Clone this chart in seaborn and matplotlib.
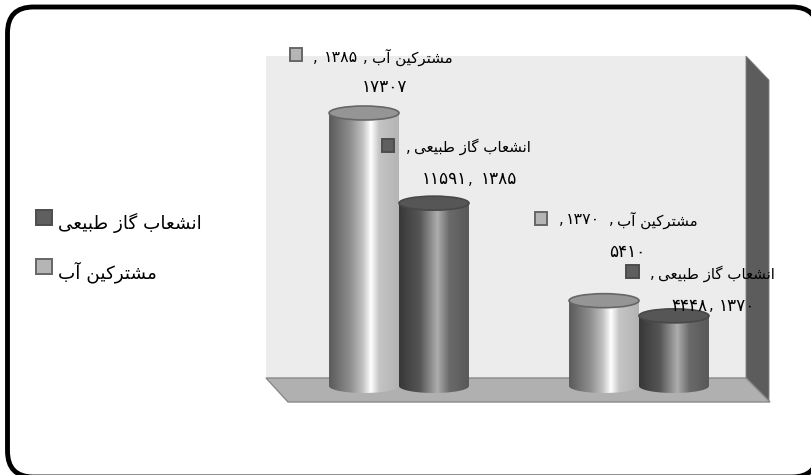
import unicodedata
import numpy as np
import pandas as pd
import matplotlib
matplotlib.use("Agg")
import matplotlib.pyplot as plt
from matplotlib.patches import Polygon, Rectangle, Ellipse, FancyBboxPatch, PathPatch
from matplotlib.path import Path
from matplotlib.colors import LinearSegmentedColormap
import seaborn as sns

# ---- data ----
years = ["۱۳۸۵", "۱۳۷۰"]
series_names = ["مشترکین آب", "انشعاب گاز طبیعی"]
water_values = [17307, 5410]
gas_values = [11591, 4448]
value_texts_water = ["۱۷۳۰۷", "۵۴۱۰"]
value_texts_gas = ["۱۱۵۹۱", "۴۴۴۸"]


# ---- minimal Arabic shaping (matplotlib does no shaping or bidi) ----
def _forms():
    table = {}
    for cp in list(range(0xFB50, 0xFE00)) + list(range(0xFE70, 0xFEFF)):
        d = unicodedata.decomposition(chr(cp)).split()
        if len(d) == 2 and d[0] in ("<isolated>", "<final>", "<initial>", "<medial>"):
            table.setdefault(chr(int(d[1], 16)), {})[d[0][1:-1]] = chr(cp)
    return table


FORMS = _forms()
FORMS.setdefault("آ", {"isolated": "\ufe81", "final": "\ufe82"})


def shape(text):
    out = []
    n = len(text)

    def joins_next(c):
        return c in FORMS and "initial" in FORMS[c]

    def joins_prev(c):
        return c in FORMS and "final" in FORMS[c]

    for i, c in enumerate(text):
        if c not in FORMS:
            out.append(c)
            continue
        p = i > 0 and joins_next(text[i - 1]) and joins_prev(c)
        q = i < n - 1 and joins_next(c) and joins_prev(text[i + 1])
        key = "medial" if p and q else "final" if p else "initial" if q else "isolated"
        out.append(FORMS[c].get(key, c))
    return "".join(reversed(out))


sns.set_theme(style="white")
plt.rcParams["font.family"] = ["DejaVu Sans"]
W, H = 812, 475
fig = plt.figure(figsize=(W / 100, H / 100), dpi=100, facecolor="white")

# pixel-coordinate layers
bg = fig.add_axes([0, 0, 1, 1], zorder=0)
bg.set_xlim(0, W); bg.set_ylim(H, 0); bg.axis("off")
top = fig.add_axes([0, 0, 1, 1], zorder=3)
top.set_xlim(0, W); top.set_ylim(H, 0); top.axis("off")
top.patch.set_alpha(0)

# chart frame (runs off the right and bottom edges of the picture)
bg.add_patch(FancyBboxPatch((7.5, 7), 810.5, 470, boxstyle="round,pad=0,rounding_size=26",
                            fc="white", ec="black", lw=3.5))

# 3-D walls and floor
bg.add_patch(Rectangle((266, 56), 480, 322, fc="#ececec", ec="none"))
bg.add_patch(Polygon([(746, 56), (769, 80), (769, 402), (746, 378)], fc="#5c5c5c", ec="#808080", lw=0.6))
bg.add_patch(Polygon([(266, 378), (746, 378), (770, 402), (288, 402)], fc="#b0b0b0", ec="#8a8a8a", lw=1))

# main chart: one axes whose scales place the cylinders
PX_PER_UNIT = 273 / 17307
ax_left, ax_right = 279, 759
ax_bottom_px, ax_top_px = 386, 386 - 20000 * PX_PER_UNIT
ax = fig.add_axes([ax_left / W, 1 - ax_bottom_px / H, (ax_right - ax_left) / W,
                   (ax_bottom_px - ax_top_px) / H], zorder=1)
df = pd.DataFrame({
    "year": years * 2,
    "series": [series_names[0]] * 2 + [series_names[1]] * 2,
    "value": water_values + gas_values,
})
sns.barplot(data=df, x="year", y="value", hue="series", order=years, hue_order=series_names,
            width=0.583, gap=0, dodge=True, palette=["#b5b5b5", "#5f5f5f"], legend=False, ax=ax)
ax.set_xlim(-0.5, 1.5); ax.set_ylim(0, 20000)
ax.axis("off")
ax.patch.set_alpha(0)

light = LinearSegmentedColormap.from_list("l", [(0, "#5a5a5a"), (0.3, "#8e8e8e"), (0.48, "#c0c0c0"), (0.6, "#ffffff"), (0.72, "#c4c4c4"), (1, "#b4b4b4")])
dark = LinearSegmentedColormap.from_list("d", [(0, "#383838"), (0.3, "#565656"), (0.55, "#adadad"), (0.72, "#6a6a6a"), (1, "#585858")])
ry = 7 / PX_PER_UNIT
bars = [p for p in ax.patches if p.get_height() > 0]
grad = np.linspace(0, 1, 256).reshape(1, -1)
for i, bar in enumerate(bars):
    x0, w, h = bar.get_x(), bar.get_width(), bar.get_height()
    bar.set_visible(False)
    is_light = i < 2
    z = 2 + (0 if is_light else 2)
    im = ax.imshow(grad, extent=(x0, x0 + w, -ry, h), aspect="auto",
                   cmap=light if is_light else dark, zorder=z, interpolation="bilinear")
    t = np.linspace(np.pi, 2 * np.pi, 60)
    xs = x0 + w / 2 + w / 2 * np.cos(t)
    ys = ry * np.sin(t)
    verts = [(x0, h)] + list(zip(xs, ys)) + [(x0 + w, h), (x0, h)]
    im.set_clip_box(fig.bbox)
    im.set_clip_path(PathPatch(Path(verts), transform=ax.transData))
    ax.add_patch(Ellipse((x0 + w / 2, h), w, 2 * ry, fc="#959595" if is_light else "#565656",
                         ec="#666666" if is_light else "#484848", lw=1.2, zorder=z + 0.5, clip_on=False))
ax.set_xlim(-0.5, 1.5); ax.set_ylim(0, 20000)


# data labels and legend in pixel coordinates
def square(x0, y0, s, dark_one):
    top.add_patch(Rectangle((x0, y0), s, s, fc="#5f5f5f" if dark_one else "#b5b5b5",
                            ec="#4d4d4d" if dark_one else "#666666", lw=1.4))


def put(x, y, s, size, ha="right"):
    top.text(x, y, s, fontsize=size, ha=ha, va="center", color="black")


FS_NAME = 10.8
FS_DIGIT = 12.2
NAME_W, NAME_G = shape(series_names[0]), shape(series_names[1])

# label: water, first year
square(290, 48, 12.5, False)
put(318, 57, ",", FS_NAME)
put(358, 57, years[0], FS_NAME + 0.6)
put(368, 57, ",", FS_NAME)
put(453, 57, NAME_W, FS_NAME)
put(385, 87, value_texts_water[0], FS_DIGIT, ha="center")

# label: gas, first year
square(382, 139, 12.5, True)
put(411, 147, ",", FS_NAME)
put(531, 147, NAME_G, FS_NAME)
put(517, 179, years[0], FS_DIGIT)
put(473, 179, ",", FS_NAME)
put(467, 179, value_texts_gas[0], FS_DIGIT)

# label: water, second year
square(535, 212, 12.5, False)
put(564, 220, ",", FS_NAME)
put(600, 220, years[1], FS_NAME + 0.6)
put(614, 220, ",", FS_NAME)
put(698, 220, NAME_W, FS_NAME)
put(627, 252, value_texts_water[1], FS_DIGIT, ha="center")

# label: gas, second year
square(626, 265, 13, True)
put(655, 274, ",", FS_NAME)
put(775, 274, NAME_G, FS_NAME)
put(755, 306, years[1], FS_DIGIT)
put(714, 306, ",", FS_NAME)
put(708, 306, value_texts_gas[1], FS_DIGIT)

# legend
square(36.5, 209.5, 15.5, True)
square(36.5, 258.5, 15.5, False)
put(58, 223, NAME_G, 13.2, ha="left")
put(58, 272, NAME_W, 13.2, ha="left")

fig.savefig("out.png", dpi=100, facecolor="white")
